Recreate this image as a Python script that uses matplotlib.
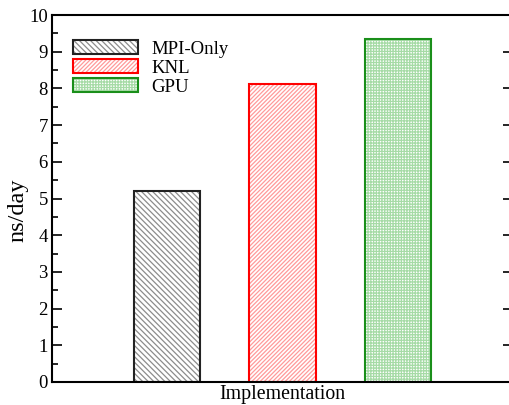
import matplotlib
matplotlib.use("Agg")
import matplotlib.pyplot as plt
from matplotlib.patches import Patch
from matplotlib.ticker import MultipleLocator

# Throughput for each implementation
labels = ["MPI-Only", "KNL", "GPU"]
ns_per_day = [5.2, 8.12, 9.35]
positions = [1, 2, 3]

edge_colors = ["#222222", "#ff0000", "#1a8f1a"]
hatch_colors = ["#8c8c8c", "#ff9a9a", "#a6dba6"]
hatches = ["\\" * 6, "/" * 8, "+" * 6]

plt.rcParams['font.family'] = ['Liberation Serif', 'DejaVu Serif']
plt.rcParams['hatch.linewidth'] = 0.9

fig = plt.figure(figsize=(5.09, 4.05), dpi=100)
ax = fig.add_axes([52/509, 23/405, 461/509, 367/405])

handles = []
for x, v, ec, hc, h, lab in zip(positions, ns_per_day, edge_colors, hatch_colors, hatches, labels):
    # hatch drawn in the lighter colour, outline on top in the full colour
    ax.bar(x, v, width=0.575, color="white", edgecolor=hc, hatch=h, linewidth=0)
    ax.bar(x, v, width=0.575, fill=False, edgecolor=ec, linewidth=1.5)
    handles.append((Patch(facecolor="white", edgecolor=hc, hatch=h, linewidth=0),
                    Patch(fill=False, edgecolor=ec, linewidth=1.5)))

ax.set_xlim(0, 4)
ax.set_ylim(0, 10)
ax.set_xticks([])
ax.yaxis.set_major_locator(MultipleLocator(1))
ax.yaxis.set_minor_locator(MultipleLocator(0.5))
ax.tick_params(axis='y', which='both', direction='in', left=True, right=True, labelsize=13.5)
ax.tick_params(axis='y', which='major', length=7, width=1.2, pad=3)
ax.tick_params(axis='y', which='minor', length=4, width=1.2, right=False)
for s in ax.spines.values():
    s.set_linewidth(1.5)

ax.set_xlabel("Implementation", fontsize=14.3, labelpad=2)
ax.set_ylabel("ns/day", fontsize=17.5)
ax.yaxis.set_label_coords(-0.051, 0.469)

ax.legend(handles, labels, loc="upper left", bbox_to_anchor=(0.029, 0.951), frameon=False,
          fontsize=13.5, handlelength=3.5, handleheight=0.7, handletextpad=0.7,
          labelspacing=0.1, borderaxespad=0)

fig.savefig("out.png", dpi=100)
